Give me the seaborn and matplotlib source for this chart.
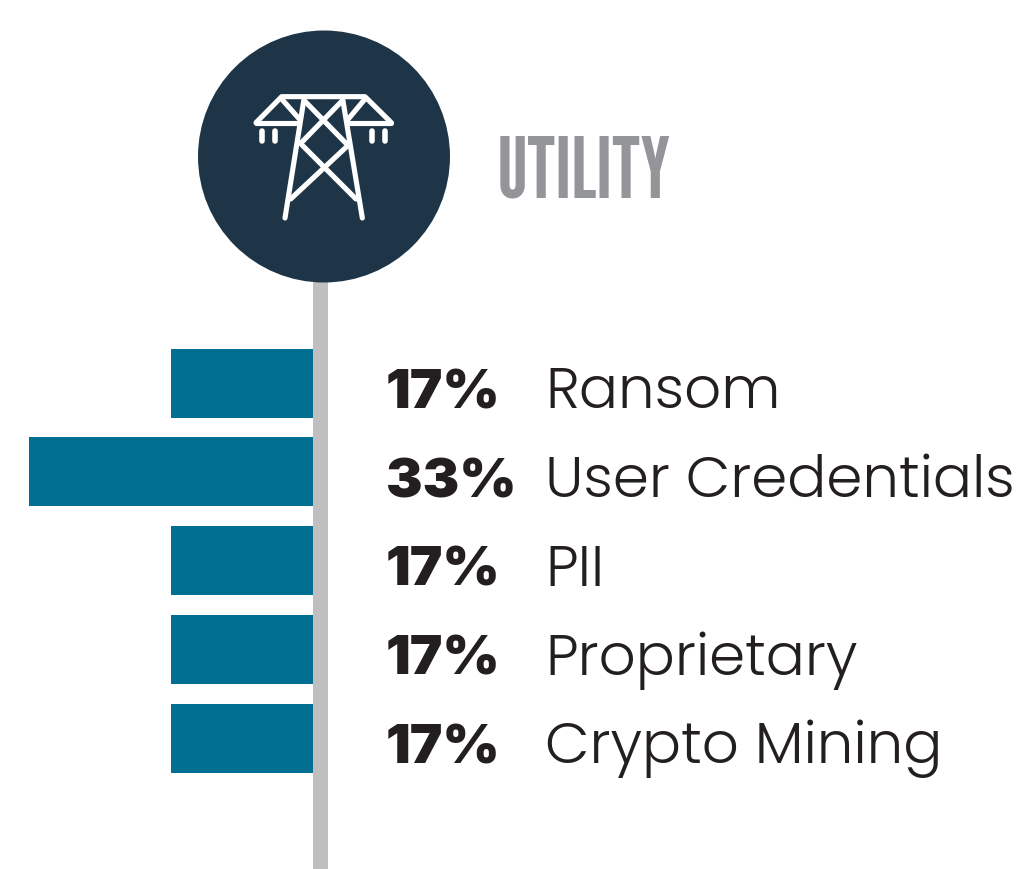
import matplotlib
matplotlib.use("Agg")
import matplotlib.pyplot as plt
from matplotlib.patches import Circle, Rectangle
import pandas as pd
import seaborn as sns

categories = ["Ransom", "User Credentials", "PII", "Proprietary", "Crypto Mining"]
values = [16.7, 33.3, 16.7, 16.7, 16.7]
value_labels = ["17%", "33%", "17%", "17%", "17%"]
title = "UTILITY"

W, H = 1027, 870
PX_PER_PCT = 284 / 33.3
ROW = 88.75
ROW0 = 384

sns.set_theme(style="white")
fig = plt.figure(figsize=(W / 100, H / 100), dpi=100, facecolor="white")

deco = fig.add_axes([0, 0, 1, 1])
deco.set_xlim(0, W)
deco.set_ylim(H, 0)
deco.axis("off")
deco.add_patch(Rectangle((313, 270), 15, 600, color="#BFBFBF", lw=0, zorder=1))
deco.add_patch(Circle((324, 157.5), 126, color="#1E3547", lw=0, zorder=2))

def Z(x, y):
    return 190 + x / 3, 25 + y / 3

icon = [
    [(198, 296), (275, 218), (525, 218), (604, 296)],
    [(198, 296), (328, 296)],
    [(475, 296), (604, 296)],
    [(342, 225), (285, 582)],
    [(458, 225), (517, 582)],
    [(275, 225), (328, 285)],
    [(525, 225), (475, 285)],
    [(345, 232), (468, 358)],
    [(455, 232), (332, 358)],
    [(335, 362), (498, 525)],
    [(470, 368), (302, 525)],
]
for seg in icon:
    xs, ys = zip(*[Z(*p) for p in seg])
    deco.plot(xs, ys, color="white", lw=3.7, solid_capstyle="round", solid_joinstyle="round", zorder=3)
for zx in (216, 255, 547, 586):
    xs, ys = zip(*[Z(zx, 322), Z(zx, 352)])
    deco.plot(xs, ys, color="white", lw=4.0, solid_capstyle="round", zorder=3)

ax = fig.add_axes([0, 0, 1, 1], facecolor="none")
df = pd.DataFrame({"category": categories, "value": values})
sns.barplot(data=df, y="category", x="value", order=categories, orient="h",
            color="#006F91", saturation=1, width=69 / ROW, linewidth=0, ax=ax, zorder=3)
ax.set_xlim(313 / PX_PER_PCT, (313 - W) / PX_PER_PCT)
ax.set_ylim((H - ROW0) / ROW, -ROW0 / ROW)
ax.axis("off")

for i, (cat, lab) in enumerate(zip(categories, value_labels)):
    ax.text(-(386 - 313) / PX_PER_PCT, i + 24.5 / ROW, lab, family=["Inter", "DejaVu Sans"],
            fontweight=900, fontsize=39.5, color="#231F20", ha="left", va="baseline")
    ax.text(-(545 - 313) / PX_PER_PCT, i + 24.5 / ROW, cat, family=["Poppins", "Inter"], fontweight=300,
            fontsize=41.7, color="#231F20", ha="left", va="baseline")

deco.text(497, 197, title, family=["League Gothic", "Bebas Neue", "Roboto"], fontsize=61,
          color="#939598", ha="left", va="baseline", zorder=3)

fig.savefig("out.png", dpi=100, facecolor="white")
